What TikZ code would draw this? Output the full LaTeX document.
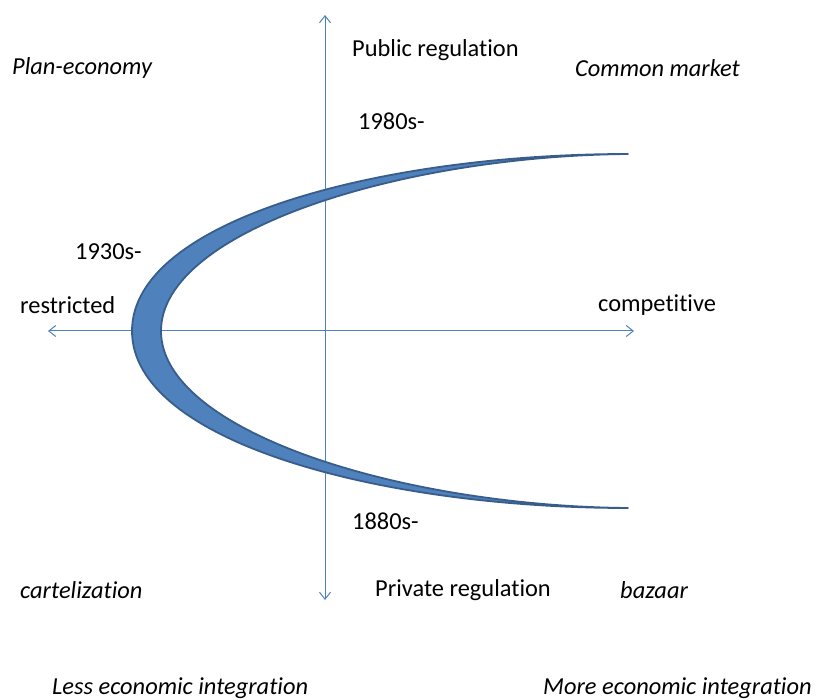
\documentclass[tikz,border=0pt]{standalone}
\usepackage{fontspec}
\setmainfont{Carlito}[Ligatures=NoCommon]
\usetikzlibrary{arrows.meta}
\definecolor{axis}{HTML}{4F81BD}
\definecolor{band}{HTML}{4F81BD}
\definecolor{bandline}{HTML}{385D8A}
\tikzset{
  ax/.style={draw=axis, line width=1pt,
    {Straight Barb[length=7pt,width=11pt]}-{Straight Barb[length=7pt,width=11pt]}},
  crescent/.style={draw=bandline, fill=band, line width=1.8pt, line join=round},
  lab/.style={font=\fontsize{24.4}{28}\selectfont, anchor=west, inner sep=0pt},
  labi/.style={lab, font=\fontsize{24.4}{28}\selectfont\itshape},
}

\begin{document}
\begin{tikzpicture}[x=1pt,y=-1pt]
  \useasboundingbox (0,0) rectangle (816,700);
  \coordinate (O) at (325,331);
  \coordinate (W) at (48,331);
  \coordinate (E) at (634,331);
  \coordinate (N) at (325,15);
  \coordinate (S) at (325,600);
  \coordinate (Top) at (628,154);
  \coordinate (Bot) at (628,508);
  \coordinate (Tip) at (132,331);
  \coordinate (Inner) at (161,331);

  \draw[ax] (W) -- (E);
  \draw[ax] (S) -- (N);

  \draw[crescent] (Top) .. controls (378,154) and (132,221) .. (Tip)
    .. controls (132,441) and (378,508) .. (Bot)
    .. controls (400,506) and (161,431) .. (Inner)
    .. controls (161,231) and (400,156) .. cycle;

  \node[labi] (plan) at (12,68) {Plan-economy};
  \node[lab] (pub) at (352,50) {Public regulation};
  \node[labi] (common) at (575,68) {Common market};
  \node[lab] (y1980) at (358,121) {1980s-};
  \node[lab] (y1930) at (75,252) {1930s-};
  \node[lab] (restr) at (20,305) {restricted};
  \node[lab] (comp) at (598,305) {competitive};
  \node[lab] (y1880) at (352,521) {1880s-};
  \node[labi] (cartel) at (20,590) {cartelization};
  \node[lab] (priv) at (375,590) {Private regulation};
  \node[labi] (bazaar) at (620,590) {bazaar};
  \node[labi] (less) at (52,688) {Less economic integration};
  \node[labi] (more) at (543,688) {More economic integration};
\end{tikzpicture}
\end{document}
